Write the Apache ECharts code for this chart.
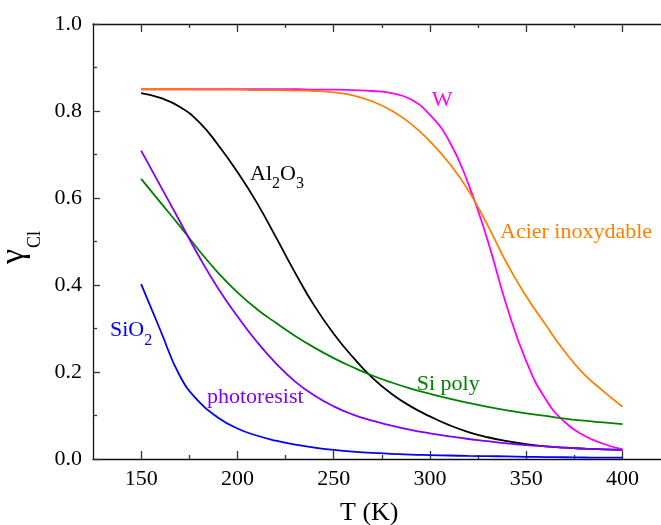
<!DOCTYPE html>
<html>
<head>
<meta charset="utf-8">
<script src="https://cdn.jsdelivr.net/npm/echarts@6/dist/echarts.min.js"></script>
<style>
html,body{margin:0;padding:0;background:#fff;}
#c{width:661px;height:525px;}
</style>
</head>
<body>
<div id="c"></div>
<script>
// ---- data (T in K, gamma_Cl), every 10 K ----
const xMajorTicks = [150, 200, 250, 300, 350, 400];
const xMinorTicks = [175, 225, 275, 325, 375];

const temps = [150,160,170,180,190,200,210,220,230,240,250,260,270,280,290,300,310,320,330,340,350,360,370,380,390,400];

const al2o3 = [0.841,0.830,0.810,0.775,0.722,0.660,0.590,0.510,0.428,0.352,0.288,0.234,0.187,0.150,0.121,0.098,0.078,0.062,0.050,0.041,0.034,0.029,0.026,0.024,0.022,0.021];
const tungsten = [0.850,0.850,0.850,0.850,0.850,0.850,0.850,0.850,0.850,0.849,0.849,0.848,0.846,0.841,0.827,0.791,0.731,0.632,0.502,0.350,0.225,0.138,0.085,0.054,0.035,0.022];
const acier = [0.850,0.850,0.850,0.849,0.849,0.849,0.848,0.848,0.847,0.846,0.843,0.836,0.822,0.801,0.771,0.730,0.680,0.617,0.537,0.449,0.374,0.309,0.247,0.195,0.156,0.120];
const siPoly = [0.644,0.590,0.536,0.480,0.428,0.383,0.345,0.313,0.283,0.256,0.232,0.211,0.192,0.176,0.162,0.150,0.139,0.129,0.120,0.112,0.105,0.099,0.093,0.088,0.084,0.080];
const photoresist = [0.709,0.628,0.547,0.466,0.392,0.328,0.270,0.220,0.178,0.146,0.121,0.102,0.088,0.077,0.067,0.059,0.052,0.046,0.041,0.036,0.032,0.029,0.026,0.024,0.022,0.021];
const sio2 = [0.402,0.296,0.192,0.132,0.095,0.070,0.054,0.042,0.033,0.026,0.021,0.017,0.014,0.012,0.010,0.009,0.008,0.007,0.0065,0.006,0.005,0.0045,0.004,0.0035,0.003,0.003];

const seriesNames = ['Al2O3','W','Acier inoxydable','Si poly','photoresist','SiO2'];
const seriesColors = ['#000000','#ff00ff','#ff8000','#008000','#8000ff','#0000ff'];
const seriesValues = [al2o3, tungsten, acier, siPoly, photoresist, sio2];

// ---- chart ----
const FONT = '"Liberation Serif", "Times New Roman", serif';
const chart = echarts.init(document.getElementById('c'), null, {renderer: 'canvas'});

function pair(ts, gs) { return ts.map((t, i) => [t, gs[i]]); }

const axisLineStyle = {color: '#111', width: 1.3};
const baseX = {type: 'value', min: 125, max: 420, splitLine: {show: false}};

const measureCtx = document.createElement('canvas').getContext('2d');
function textWidth(txt, size) {
  measureCtx.font = size + 'px ' + FONT;
  return measureCtx.measureText(txt).width;
}
// label built from normal and subscript pieces; baseline given in pixels
function label(x, baseline, parts, color, size, subSize, subDrop) {
  const els = [];
  let cx = x;
  parts.forEach(p => {
    const isSub = p[1];
    const fs = isSub ? subSize : size;
    const bl = isSub ? baseline + subDrop : baseline;
    els.push({
      type: 'text', x: cx, y: bl - 0.34 * fs, silent: true,
      style: {text: p[0], fill: color, fontSize: fs, fontFamily: FONT,
              textAlign: 'left', textVerticalAlign: 'middle'}
    });
    cx += textWidth(p[0], fs);
  });
  return els;
}

const graphics = [].concat(
  label(250, 181.7, [['Al', false], ['2', true], ['O', false], ['3', true]], '#000000', 22, 16, 8),
  label(431.7, 107.3, [['W', false]], '#ff00ff', 22, 16, 8),
  label(500, 239.3, [['Acier inoxydable', false]], '#ff8000', 22, 16, 8),
  label(416.7, 391.7, [['Si poly', false]], '#008000', 22, 16, 8),
  label(207, 405, [['photoresist', false]], '#8000ff', 22, 16, 8),
  label(110, 338, [['SiO', false], ['2', true]], '#0000ff', 22, 16, 8),
  label(340, 521.7, [['T (K)', false]], '#000000', 26, 16, 8),
  [
    {type: 'text', x: 14, y: 264, rotation: Math.PI / 2, silent: true,
     style: {text: 'γ', fill: '#000', fontSize: 34, fontFamily: FONT, textAlign: 'left', textVerticalAlign: 'middle'}},
    {type: 'text', x: 35.6, y: 248, rotation: Math.PI / 2, silent: true,
     style: {text: 'Cl', fill: '#000', fontSize: 18, fontFamily: FONT, textAlign: 'left', textVerticalAlign: 'middle'}}
  ]
);

const option = {
  backgroundColor: '#ffffff',
  animation: false,
  grid: {left: 93, right: 0, top: 24, bottom: 66, containLabel: false},
  xAxis: [
    Object.assign({}, baseX, {
      position: 'bottom',
      axisLine: {show: true, lineStyle: axisLineStyle},
      axisTick: {show: true, inside: true, length: 8, customValues: xMajorTicks, lineStyle: {color: '#333', width: 1.3}},
      axisLabel: {show: true, customValues: xMajorTicks, margin: 9, color: '#000', fontSize: 22, fontFamily: FONT}
    }),
    Object.assign({}, baseX, {
      position: 'bottom',
      axisLine: {show: false},
      axisTick: {show: true, inside: true, length: 4, customValues: xMinorTicks, lineStyle: {color: '#333', width: 1.3}},
      axisLabel: {show: false}
    }),
    Object.assign({}, baseX, {
      position: 'top',
      axisLine: {show: true, lineStyle: axisLineStyle},
      axisTick: {show: true, inside: true, length: 8, customValues: xMajorTicks, lineStyle: {color: '#333', width: 1.3}},
      axisLabel: {show: false}
    }),
    Object.assign({}, baseX, {
      position: 'top',
      axisLine: {show: false},
      axisTick: {show: true, inside: true, length: 4, customValues: xMinorTicks, lineStyle: {color: '#333', width: 1.3}},
      axisLabel: {show: false}
    })
  ],
  yAxis: [{
    type: 'value', min: 0, max: 1, interval: 0.2, position: 'left',
    splitLine: {show: false},
    axisLine: {show: true, lineStyle: axisLineStyle},
    axisTick: {show: true, inside: true, length: 7, lineStyle: {color: '#333', width: 1.3}},
    minorTick: {show: true, splitNumber: 2, length: 4, lineStyle: {color: '#333', width: 1.3}},
    axisLabel: {show: true, margin: 11, color: '#000', fontSize: 22, fontFamily: FONT,
                formatter: v => v.toFixed(1)}
  }],
  series: seriesNames.map((n, i) => ({
    name: n, type: 'line', xAxisIndex: 0, yAxisIndex: 0,
    data: pair(temps, seriesValues[i]),
    showSymbol: false, smooth: 0.5,
    lineStyle: {color: seriesColors[i], width: 1.8},
    itemStyle: {color: seriesColors[i]},
    z: 3
  })),
  graphic: graphics
};

chart.setOption(option);
</script>
</body>
</html>
